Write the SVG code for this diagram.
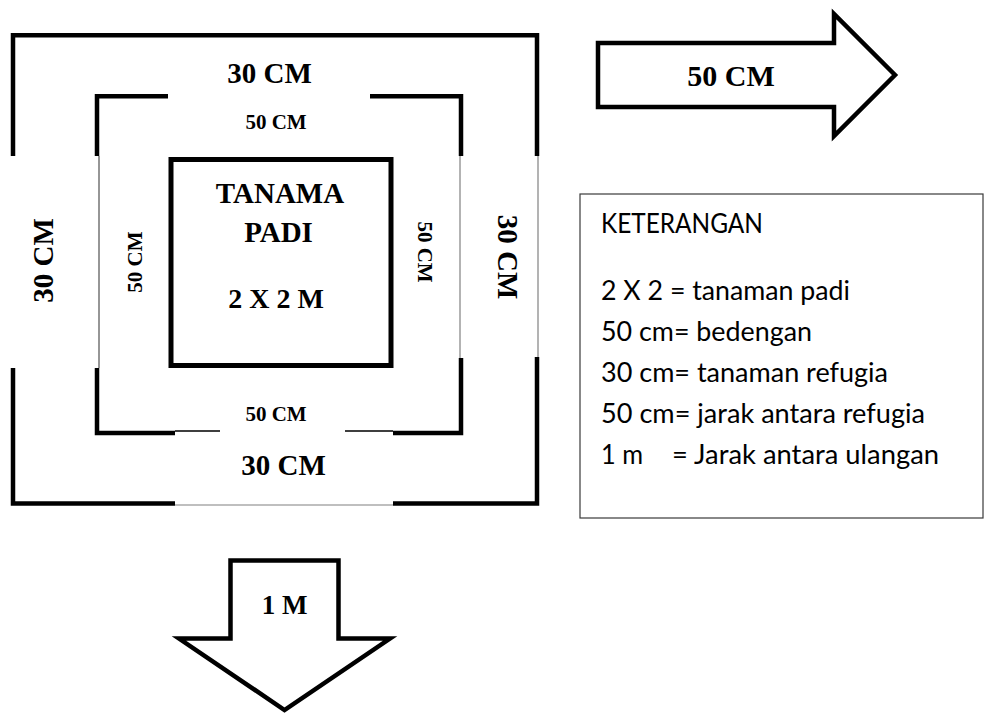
<svg xmlns="http://www.w3.org/2000/svg" width="984" height="715" viewBox="0 0 984 715">
<style>
.thick{fill:none;stroke:#000;stroke-width:4.5;stroke-linejoin:miter;stroke-linecap:butt}
.thin{fill:none;stroke:#808080;stroke-width:1.2}
.thinb{fill:none;stroke:#000;stroke-width:1.3}
.arrow{fill:#fff;stroke:#000;stroke-width:4.5;stroke-linejoin:miter}
.tb{font-family:"Liberation Serif","Times New Roman",serif;font-weight:bold;fill:#000}
.big{font-size:29px}
.small{font-size:21px}
.leg{font-family:Lato,"Open Sans",sans-serif;font-size:26px;fill:#000}
</style>
<rect width="984" height="715" fill="#fff"/>
<g id="outer-frame">
<path class="thick" d="M13,156 V35.3 H537 V156"/>
<path class="thick" d="M13,368 V503.5 H175"/>
<path class="thick" d="M393,503.5 H537 V357"/>
<path class="thin" d="M538,156 V357"/>
<path class="thin" d="M175,505 H393"/>
<text class="tb big" x="269.5" y="83" text-anchor="middle">30 CM</text>
<text class="tb big" x="283.5" y="475" text-anchor="middle">30 CM</text>
<text class="tb big" transform="translate(53,260.5) rotate(-90)" text-anchor="middle">30 CM</text>
<text class="tb big" transform="translate(498,257) rotate(90)" text-anchor="middle">30 CM</text>
</g>
<g id="inner-frame">
<path class="thick" d="M97,156 V96.3 H168"/>
<path class="thick" d="M370,96.3 H461 V156"/>
<path class="thick" d="M97,368 V433 H175"/>
<path class="thick" d="M393,433 H461 V358"/>
<path class="thin" style="stroke:#505050" d="M99,156 V368"/>
<path class="thin" d="M460,156 V358"/>
<path class="thinb" d="M175,431 H220 M345,431 H393"/>
<text class="tb small" x="276" y="129" text-anchor="middle">50 CM</text>
<text class="tb small" x="276" y="421" text-anchor="middle">50 CM</text>
<text class="tb small" transform="translate(142,262) rotate(-90)" text-anchor="middle">50 CM</text>
<text class="tb small" transform="translate(418,252) rotate(90)" text-anchor="middle">50 CM</text>
</g>
<g id="padi-plot">
<rect x="171" y="159.5" width="220" height="206" fill="#fff" stroke="#000" stroke-width="5"/>
<text class="tb big" x="280" y="203" text-anchor="middle">TANAMA</text>
<text class="tb big" x="278.5" y="242" text-anchor="middle">PADI</text>
<text class="tb" style="font-size:28px" x="276" y="308" text-anchor="middle">2 X 2 M</text>
</g>
<g id="arrow-right">
<polygon class="arrow" points="598,43 834,43 834,14 895,75 834,136 834,107 598,107"/>
<text class="tb" style="font-size:30px" x="731" y="86" text-anchor="middle">50 CM</text>
</g>
<g id="arrow-down">
<polygon class="arrow" points="230.5,560.5 338.5,560.5 338.5,638.5 390,638.5 284.5,710 179,638.5 230.5,638.5"/>
<text class="tb" style="font-size:27px" x="284.5" y="614" text-anchor="middle">1 M</text>
</g>
<g id="legend">
<rect x="580" y="194" width="403" height="324" fill="#fff" stroke="#3a3a3a" stroke-width="1.2"/>
<text class="leg" x="601" y="233" textLength="162" lengthAdjust="spacingAndGlyphs">KETERANGAN</text>
<text class="leg" x="601" y="300" textLength="249" lengthAdjust="spacingAndGlyphs">2 X 2 = tanaman padi</text>
<text class="leg" x="601" y="341" textLength="211" lengthAdjust="spacingAndGlyphs">50 cm= bedengan</text>
<text class="leg" x="601" y="382" textLength="287" lengthAdjust="spacingAndGlyphs">30 cm= tanaman refugia</text>
<text class="leg" x="601" y="423" textLength="324" lengthAdjust="spacingAndGlyphs">50 cm= jarak antara refugia</text>
<text class="leg" x="601" y="464"><tspan textLength="42" lengthAdjust="spacingAndGlyphs">1 m</tspan><tspan x="672" textLength="267" lengthAdjust="spacingAndGlyphs">= Jarak antara ulangan</tspan></text>
</g>
</svg>
